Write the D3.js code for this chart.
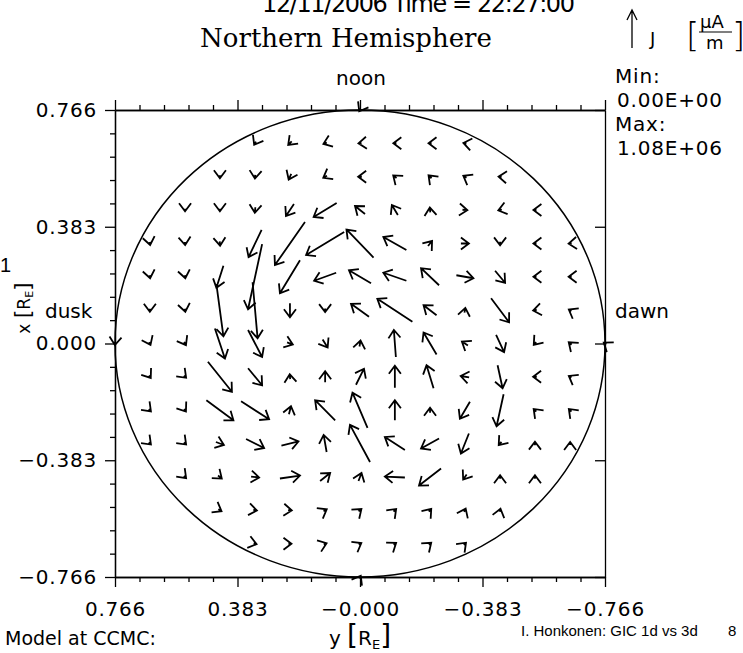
<!DOCTYPE html>
<html>
<head>
<meta charset="utf-8">
<script src="https://cdn.jsdelivr.net/npm/d3@7"></script>
<style>
  body { margin: 0; background: #fff; }
  svg { display: block; background: #fff; }
  text { font-family: "DejaVu Sans", sans-serif; fill: #000; }
</style>
</head>
<body>
<svg width="743" height="653"></svg>
<script>
// grid positions in R_E (rows: x from noon to midnight, columns: y from dusk to dawn)
const xGrid = [0.766, 0.657, 0.547, 0.438, 0.328, 0.219, 0.109, 0.000, -0.109, -0.219, -0.328, -0.438, -0.547, -0.657, -0.766];
const yGrid = [0.766, 0.657, 0.547, 0.438, 0.328, 0.219, 0.109, 0.000, -0.109, -0.219, -0.328, -0.438, -0.547, -0.657, -0.766];

// current density components, 1e5 uA/m, one list per row (top to bottom)
// jAcross: toward dawn (right), jAlong: toward noon (up)
const jAcross = [
  [-0.25],
  [-0.30, -0.57, -0.56, -0.50, -0.50, -0.50, -0.49],
  [0, -0.05, -0.42, -0.61, -0.60, -0.54, -0.49, -0.52, -0.50],
  [0, 0, -0.08, -1.31, -3.77, -1.64, -0.98, -0.07, 0.80, -0.58, -0.50],
  [0.09, 0.04, 0.06, -2.13, -4.92, -6.23, -4.43, -3.77, 0.66, 1.31, 0, -0.50, -0.50],
  [0.09, 0.09, -1.15, -2.30, -3.28, -3.61, -3.61, -3.77, -2.95, 2.79, 1.64, -0.50, -0.50],
  [0, 0.09, 1.15, 0.82, 0, 0, -2.95, -5.74, -2.13, 0.14, 2.95, -0.59, -0.43],
  [-0.04, 0.21, 0.30, 1.64, 2.30, 0.94, 0.82, 0.17, -0.33, -2.13, -0.98, 1.31, -0.39, -0.46, -0.41],
  [0.29, 0.35, 3.93, 2.30, -0.07, 0, 1.31, 0, -1.15, -1.38, 0.82, -0.60, -0.43],
  [0.35, 0.29, 4.43, 4.59, 0.33, -3.28, -2.46, 0, 0, -1.64, -1.15, -0.42, -0.42],
  [0.35, 0.35, 1.31, 2.95, 2.79, -0.49, -3.28, -3.28, -2.95, -1.31, -0.45, 0, 0],
  [0.35, 0.61, 1.31, 3.28, 1.64, 0.49, -3.28, -3.61, -0.57, 0, 0],
  [0.52, 0.59, 0.60, 0.52, 0.46, 0.42, 0.39, 0.25, 0.13],
  [0.48, 0.50, 0.47, 0.43, 0.41, 0.38, 0.35],
  [0.25]
];
const jAlong = [
  [-0.43],
  [-0.52, -0.57, -0.21, -0.04, 0, 0, 0.09],
  [-0.50, -0.60, -0.91, -0.35, 0, 0.45, 0.49, 0.30, 0.04],
  [-0.40, -0.40, -0.90, -1.97, -2.30, 1.31, 1.64, 0.80, -0.07, -0.16, 0],
  [-0.49, -0.50, -0.70, -4.43, -7.05, -3.77, 4.59, 2.13, 0.82, 0, -0.60, 0, -0.04],
  [-0.49, -0.49, -3.61, -10.66, -5.41, -1.31, 2.13, 1.31, 2.79, -0.49, -1.97, 0, 0],
  [-0.50, -0.49, -8.52, -9.18, -2.30, -0.60, 2.13, 3.77, 1.64, 0.79, -3.93, -0.10, 0.25],
  [-0.50, -0.45, -0.52, -4.92, -4.43, -0.34, -1.31, 0.98, 4.43, 3.61, 0.66, -2.79, -0.46, 0.39, 0.29],
  [-0.41, -0.35, -4.92, -2.79, 0.80, 1.80, 2.62, 3.61, 3.77, 0.24, -3.77, 0, 0.25],
  [-0.35, -0.41, -3.28, -2.95, 1.31, 3.28, 5.74, 3.28, 0.80, -2.79, -5.25, 0.42, 0.42],
  [-0.35, -0.35, -0.49, -1.48, 0.66, 2.79, 6.07, 2.13, -1.64, -3.28, -0.54, 0.60, 0.50],
  [-0.35, -0.51, -0.16, 0.49, 1.31, 1.31, 0.16, -2.79, -0.82, 0.60, 0.60],
  [-0.30, -0.10, -0.05, 0.30, 0.39, 0.42, 0.46, 0.54, 0.48],
  [-0.13, 0, 0.17, 0.25, 0.29, 0.32, 0.35],
  [0.43]
];
const jMax = 10.8; // 1.08E+06

const hMajor = [0.766, 0.383, 0, -0.383, -0.766];
const hTickLabels = ['0.766', '0.383', '\u22120.000', '\u22120.383', '\u22120.766'];
const vMajor = [0.766, 0.383, 0, -0.383, -0.766];
const vTickLabels = ['0.766', '0.383', '0.000', '\u22120.383', '\u22120.766'];
const minorTicks = [0.6894, 0.6128, 0.5362, 0.4596, 0.3064, 0.2298, 0.1532, 0.0766,
  -0.0766, -0.1532, -0.2298, -0.3064, -0.4596, -0.5362, -0.6128, -0.6894];

const svg = d3.select('svg');
const width = +svg.attr('width');
const height = +svg.attr('height');
const margin = {top: 110, right: 138, bottom: 76, left: 115};
const innerW = width - margin.left - margin.right;
const innerH = height - margin.top - margin.bottom;

const xScale = d3.scaleLinear().domain([0.766, -0.766]).range([0, innerW]);
const yScale = d3.scaleLinear().domain([0.766, -0.766]).range([0, innerH]);
const lenScale = d3.scaleLinear().domain([0, jMax]).range([0, 66]);

const g = svg.append('g').attr('transform', `translate(${margin.left},${margin.top})`);

// axes
const styleAxis = sel => {
  sel.attr('font-family', null).attr('font-size', null);
  sel.selectAll('path, line').attr('stroke', '#000').attr('stroke-width', 1.3);
  sel.selectAll('text').attr('font-size', 20).attr('letter-spacing', 0.8);
};
g.append('g').attr('transform', `translate(0,${innerH})`)
  .call(d3.axisBottom(xScale).tickValues(hMajor).tickSize(10).tickSizeOuter(0)
    .tickPadding(15).tickFormat((d, i) => hTickLabels[i]))
  .call(styleAxis);
g.append('g').attr('transform', `translate(0,${innerH})`)
  .call(d3.axisBottom(xScale).tickValues(minorTicks).tickSize(5).tickSizeOuter(0).tickFormat(''))
  .call(styleAxis);
g.append('g')
  .call(d3.axisLeft(yScale).tickValues(vMajor).tickSize(10).tickSizeOuter(0)
    .tickPadding(8).tickFormat((d, i) => vTickLabels[i]))
  .call(styleAxis);
g.append('g')
  .call(d3.axisLeft(yScale).tickValues(minorTicks).tickSize(5).tickSizeOuter(0).tickFormat(''))
  .call(styleAxis);
g.append('g')
  .call(d3.axisTop(xScale).tickValues(hMajor).tickSize(10).tickSizeOuter(0).tickFormat(''))
  .call(styleAxis);
g.append('g')
  .call(d3.axisTop(xScale).tickValues(minorTicks).tickSize(5).tickSizeOuter(0).tickFormat(''))
  .call(styleAxis);
g.append('g').attr('transform', `translate(${innerW},0)`)
  .call(d3.axisLeft(yScale).tickValues(vMajor).tickSize(10).tickSizeOuter(0).tickFormat(''))
  .call(styleAxis);

// boundary circle
g.append('ellipse')
  .attr('cx', xScale(0)).attr('cy', yScale(0))
  .attr('rx', xScale(-0.766) - xScale(0)).attr('ry', yScale(-0.766) - yScale(0))
  .attr('fill', 'none').attr('stroke', '#000').attr('stroke-width', 1.5);

// arrows centred on grid points
const arrows = [];
jAcross.forEach((row, r) => {
  const first = (yGrid.length - row.length) / 2;
  row.forEach((u, k) => {
    arrows.push({cx: xScale(yGrid[first + k]), cy: yScale(xGrid[r]), u: u, v: jAlong[r][k]});
  });
});
const headLen = 10;
const headAng = 37 * Math.PI / 180;
const arrowPath = d => {
  const dx = lenScale(d.u), dy = -lenScale(d.v);
  const x0 = d.cx - dx / 2, y0 = d.cy - dy / 2;
  const x1 = d.cx + dx / 2, y1 = d.cy + dy / 2;
  const a = Math.atan2(dy, dx) + Math.PI;
  const p = d3.path();
  p.moveTo(x0, y0); p.lineTo(x1, y1);
  p.moveTo(x1 + headLen * Math.cos(a - headAng), y1 + headLen * Math.sin(a - headAng));
  p.lineTo(x1, y1);
  p.lineTo(x1 + headLen * Math.cos(a + headAng), y1 + headLen * Math.sin(a + headAng));
  return p.toString();
};
g.selectAll('path.arrow').data(arrows)
  .enter().append('path')
    .attr('class', 'arrow')
    .attr('d', arrowPath)
    .attr('fill', 'none')
    .attr('stroke', '#000')
    .attr('stroke-width', 1.8)
    .attr('stroke-linejoin', 'miter');

// titles and labels
svg.append('text').text('12/11/2006  Time = 22:27:00')
  .attr('x', 262).attr('y', 12).attr('font-size', 24)
  .attr('textLength', 313).attr('lengthAdjust', 'spacing');
svg.append('text').text('Northern Hemisphere')
  .attr('x', 346).attr('y', 47).attr('text-anchor', 'middle')
  .style('font-family', '"DejaVu Serif", serif').attr('font-size', 26);
svg.append('text').text('noon').attr('x', 361).attr('y', 85)
  .attr('text-anchor', 'middle').attr('font-size', 20);
svg.append('text').text('dusk').attr('x', 45).attr('y', 318).attr('font-size', 20);
svg.append('text').text('dawn').attr('x', 615).attr('y', 318).attr('font-size', 20);

const info = ['Min:', '0.00E+00', 'Max:', '1.08E+06'];
svg.selectAll('text.info').data(info).enter().append('text')
  .attr('class', 'info')
  .text(d => d)
  .attr('x', (d, i) => i % 2 ? 617 : 615)
  .attr('y', (d, i) => 83 + i * 24)
  .attr('font-size', 20).attr('letter-spacing', 0.8);

// legend: arrow J [uA/m]
svg.append('path')
  .attr('d', 'M632,48L632,10M627,20L632,10L637,20')
  .attr('fill', 'none').attr('stroke', '#000').attr('stroke-width', 1.3);
svg.append('text').text('J').attr('x', 650).attr('y', 45).attr('font-size', 18);
svg.append('text').text('[').attr('x', 686).attr('y', 47).attr('font-size', 34).style('font-weight', 300);
svg.append('text').text('\u03bcA').attr('x', 700).attr('y', 28).attr('font-size', 18);
svg.append('line').attr('x1', 699).attr('x2', 732).attr('y1', 32).attr('y2', 32)
  .attr('stroke', '#000').attr('stroke-width', 1.2);
svg.append('text').text('m').attr('x', 706).attr('y', 49).attr('font-size', 18);
svg.append('text').text(']').attr('x', 732).attr('y', 47).attr('font-size', 34).style('font-weight', 300);

// axis titles
const yTitle = svg.append('text').attr('x', 360).attr('y', 645).attr('text-anchor', 'middle').attr('font-size', 20);
yTitle.append('tspan').text('y ');
yTitle.append('tspan').text('[').attr('font-size', 28);
yTitle.append('tspan').text('R');
yTitle.append('tspan').text('E').attr('font-size', 13).attr('dy', 4);
yTitle.append('tspan').text(']').attr('font-size', 28).attr('dy', -4);

const xTitle = svg.append('text').attr('transform', 'translate(30,308) rotate(-90)')
  .attr('text-anchor', 'middle').attr('font-size', 17);
xTitle.append('tspan').text('x ');
xTitle.append('tspan').text('[').attr('font-size', 22);
xTitle.append('tspan').text('R');
xTitle.append('tspan').text('E').attr('font-size', 11).attr('dy', 3);
xTitle.append('tspan').text(']').attr('font-size', 22).attr('dy', -3);

svg.append('text').text('1').attr('x', 0).attr('y', 272)
  .style('font-family', '"Liberation Sans", Arial, sans-serif').attr('font-size', 20);
svg.append('text').text('Model at CCMC:').attr('x', 5).attr('y', 645).attr('font-size', 19);
svg.append('text').text('I. Honkonen: GIC 1d vs 3d').attr('x', 521).attr('y', 636)
  .style('font-family', '"Liberation Sans", Arial, sans-serif').attr('font-size', 15);
svg.append('text').text('8').attr('x', 728).attr('y', 636)
  .style('font-family', '"Liberation Sans", Arial, sans-serif').attr('font-size', 15);
</script>
</body>
</html>
